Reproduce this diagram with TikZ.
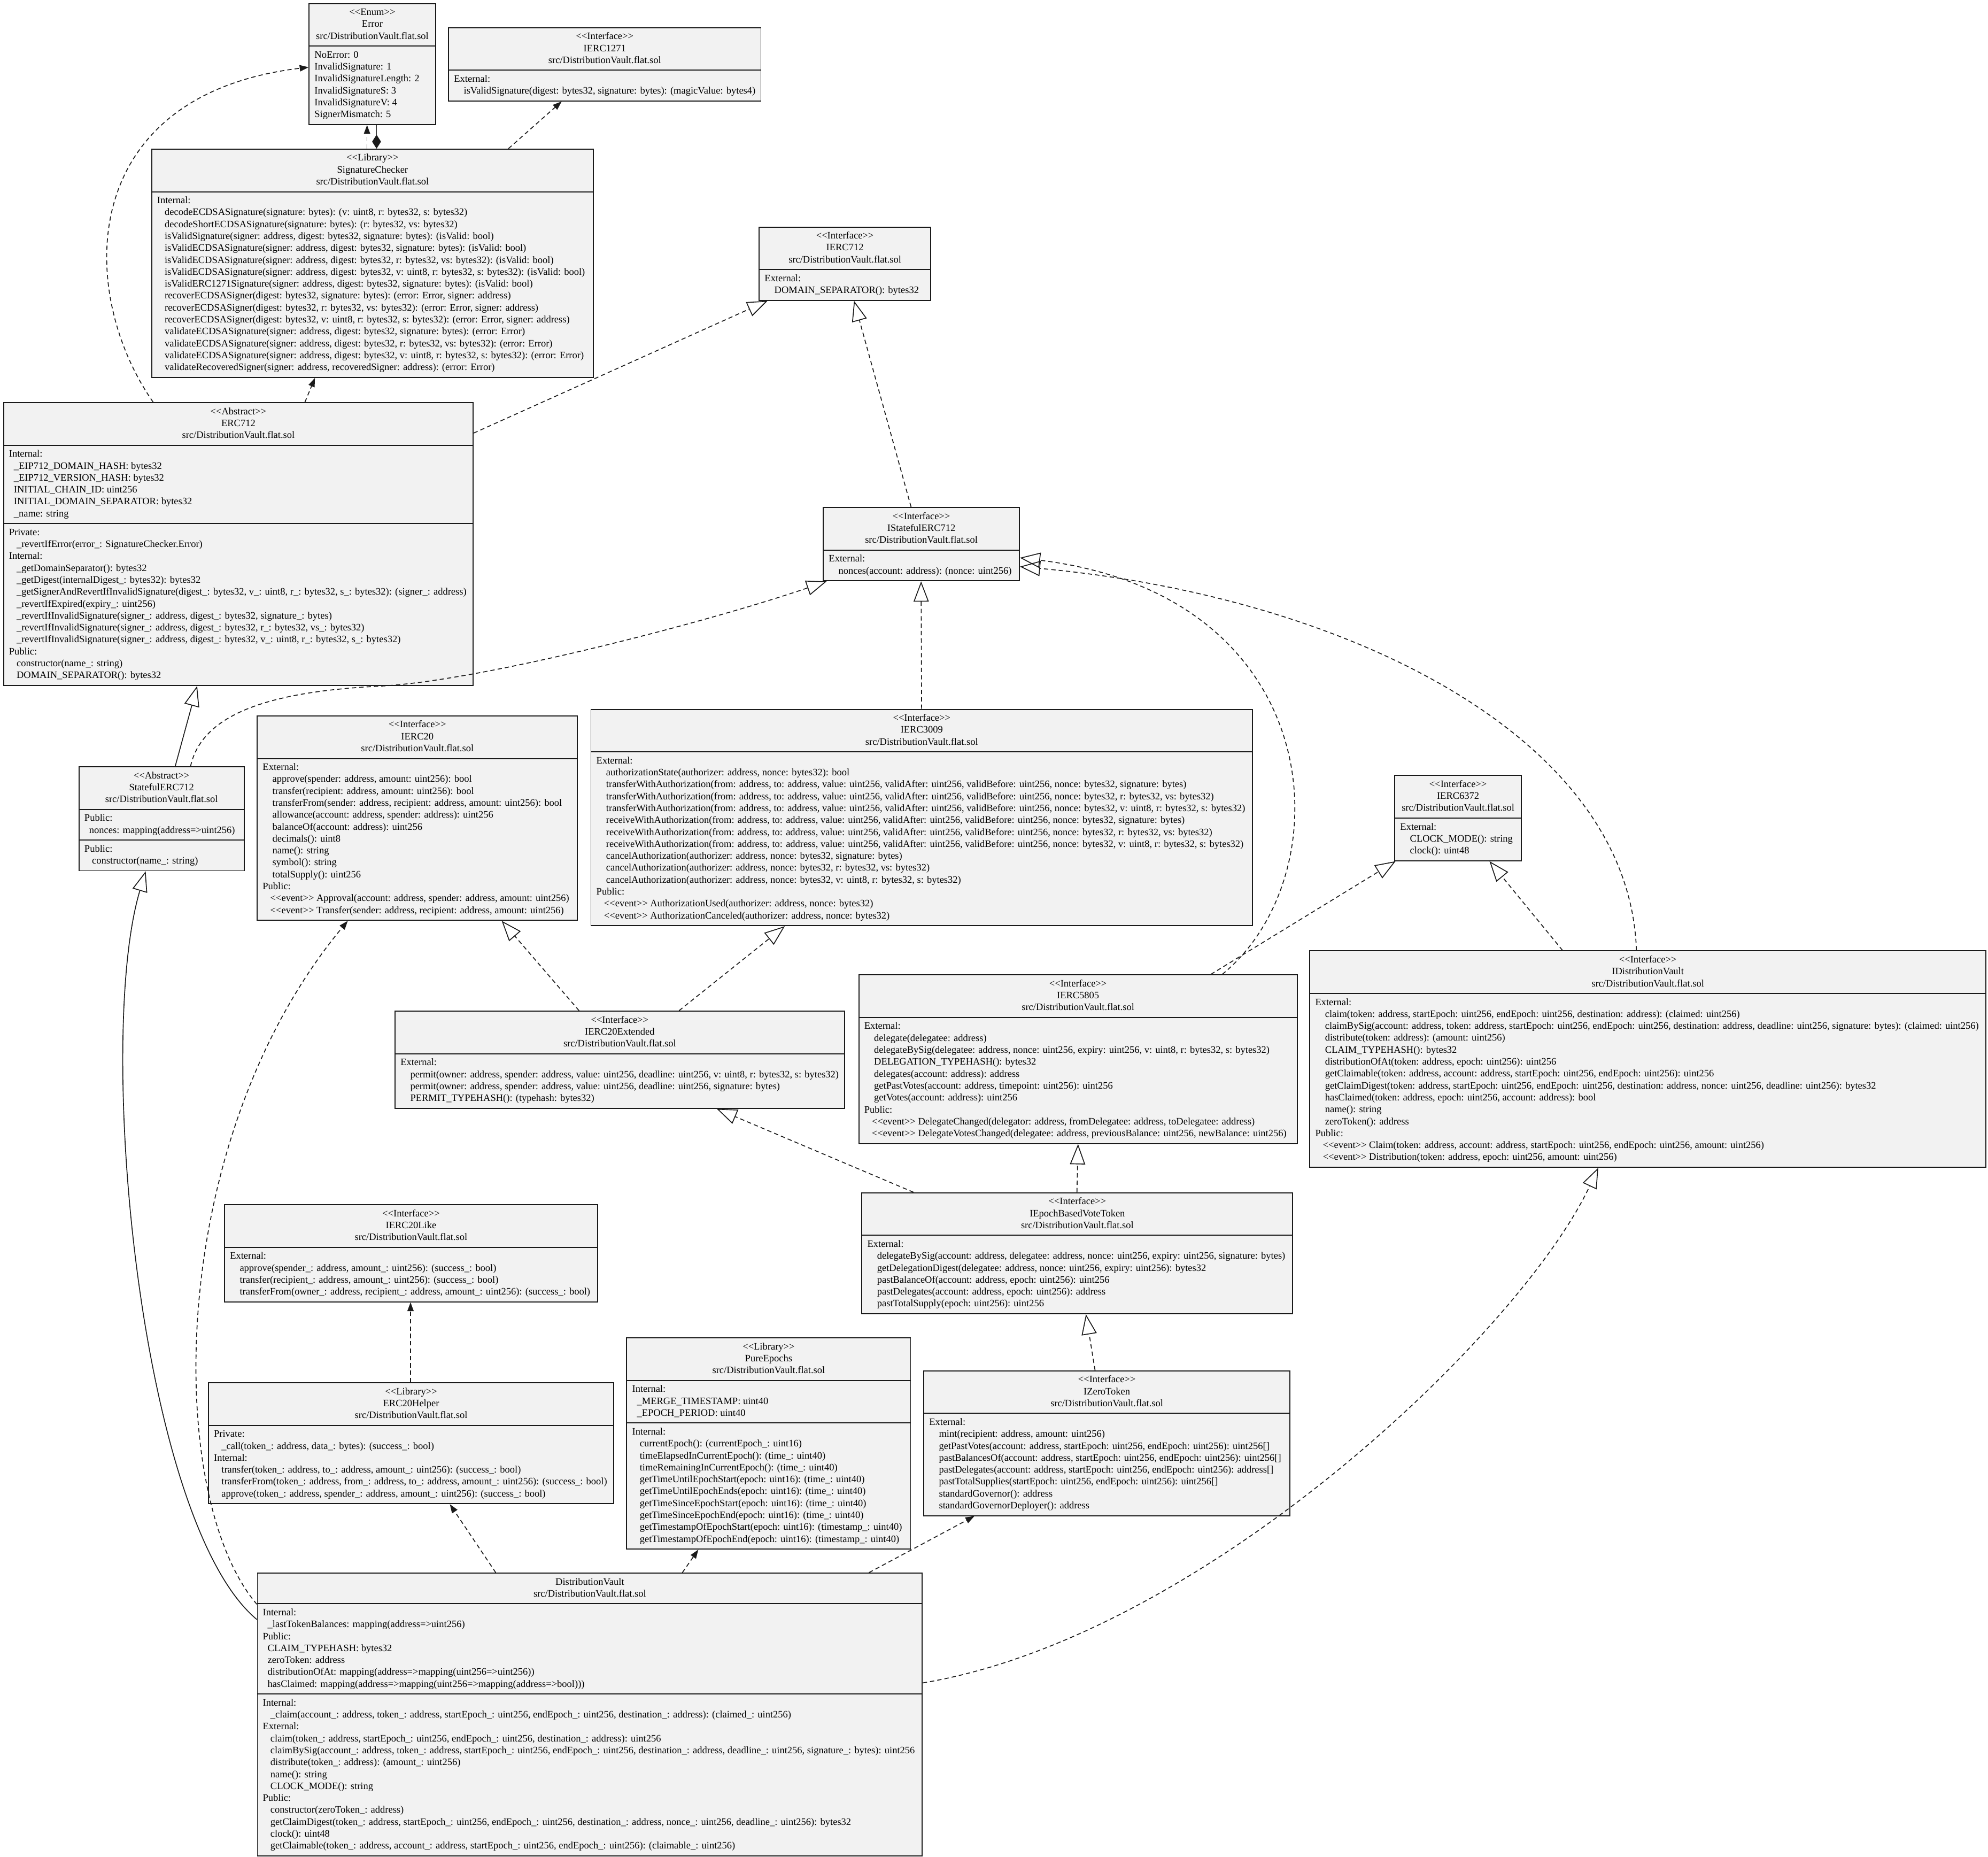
\documentclass[tikz,border=0pt]{standalone}
\usepackage{fontspec}
\setmainfont{Liberation Serif}
\usetikzlibrary{shapes.multipart,arrows.meta}
\definecolor{boxfill}{HTML}{F2F2F2}
\definecolor{boxline}{HTML}{1A1A1A}
\newcommand\umlfont{\fontsize{7.8pt}{9.4pt}\selectfont}
% stereotype brackets, kept apart so that no guillemet ligature forms
\newcommand\st[1]{<\kern0pt<#1>\kern0pt>}
\newcommand\hd[2]{\begin{tabular}{@{}c@{}}\st{#1}\\#2\\src/DistributionVault.flat.sol\end{tabular}}
\newcommand\bl[1]{\begin{tabular}{@{}l@{}}#1\end{tabular}}
% indentation of attributes, methods, interface methods and events
\newcommand\ia{\hspace*{3.8pt}}
\newcommand\im{\hspace*{6pt}}
\newcommand\ix{\hspace*{7.7pt}}
\newcommand\iev{\hspace*{6pt}}
\tikzset{
  umlbox/.style={rectangle split, rectangle split parts=#1,
    rectangle split part align={center,left,left},
    draw=boxline, fill=boxfill, line width=0.8pt,
    inner xsep=4.3pt, inner ysep=2.3pt, anchor=north west, font=\umlfont},
  link/.style={line width=0.7pt, draw=boxline},
  dashedlink/.style={link, dash pattern=on 3.4pt off 2.4pt},
  uses/.style={dashedlink, -{Triangle[length=7pt,width=5pt]}},
  realizes/.style={dashedlink, -{Triangle[open,length=16pt,width=12pt]}},
  inherits/.style={link, -{Triangle[open,length=16pt,width=12pt]}},
  composed/.style={link, {Diamond[length=11pt,width=7pt]}-},
}
\begin{document}
\catcode`\_=12
\begin{tikzpicture}[x=1pt,y=-1pt]
\useasboundingbox (0,0) rectangle (1568,1464);
\fill[white] (0,0) rectangle (1568,1464);

% ---------- classes ----------
\node[umlbox=2, minimum width=99.7pt] (err) at (243.4,2.4) {\hd{Enum}{Error}
\nodepart{two}\bl{NoError: 0\\InvalidSignature: 1\\InvalidSignatureLength: 2\\InvalidSignatureS: 3\\InvalidSignatureV: 4\\SignerMismatch: 5}};

\node[umlbox=2, minimum width=243.5pt] (e1271) at (353.4,21.4) {\hd{Interface}{IERC1271}
\nodepart{two}\bl{External:\\\ix isValidSignature(digest: bytes32, signature: bytes): (magicValue: bytes4)}};

\node[umlbox=2, minimum width=348.4pt] (sigc) at (119.2,117.2) {\hd{Library}{SignatureChecker}
\nodepart{two}\bl{Internal:\\
\im decodeECDSASignature(signature: bytes): (v: uint8, r: bytes32, s: bytes32)\\
\im decodeShortECDSASignature(signature: bytes): (r: bytes32, vs: bytes32)\\
\im isValidSignature(signer: address, digest: bytes32, signature: bytes): (isValid: bool)\\
\im isValidECDSASignature(signer: address, digest: bytes32, signature: bytes): (isValid: bool)\\
\im isValidECDSASignature(signer: address, digest: bytes32, r: bytes32, vs: bytes32): (isValid: bool)\\
\im isValidECDSASignature(signer: address, digest: bytes32, v: uint8, r: bytes32, s: bytes32): (isValid: bool)\\
\im isValidERC1271Signature(signer: address, digest: bytes32, signature: bytes): (isValid: bool)\\
\im recoverECDSASigner(digest: bytes32, signature: bytes): (error: Error, signer: address)\\
\im recoverECDSASigner(digest: bytes32, r: bytes32, vs: bytes32): (error: Error, signer: address)\\
\im recoverECDSASigner(digest: bytes32, v: uint8, r: bytes32, s: bytes32): (error: Error, signer: address)\\
\im validateECDSASignature(signer: address, digest: bytes32, signature: bytes): (error: Error)\\
\im validateECDSASignature(signer: address, digest: bytes32, r: bytes32, vs: bytes32): (error: Error)\\
\im validateECDSASignature(signer: address, digest: bytes32, v: uint8, r: bytes32, s: bytes32): (error: Error)\\
\im validateRecoveredSigner(signer: address, recoveredSigner: address): (error: Error)}};

\node[umlbox=2, minimum width=135.2pt] (ie712) at (598.4,178.6) {\hd{Interface}{IERC712}
\nodepart{two}\bl{External:\\\ix DOMAIN_SEPARATOR(): bytes32}};

\node[umlbox=3, minimum width=370.4pt] (erc712) at (2.4,317.1) {\hd{Abstract}{ERC712}
\nodepart{two}\bl{Internal:\\
\ia _EIP712_DOMAIN_HASH: bytes32\\
\ia _EIP712_VERSION_HASH: bytes32\\
\ia INITIAL_CHAIN_ID: uint256\\
\ia INITIAL_DOMAIN_SEPARATOR: bytes32\\
\ia _name: string}
\nodepart{three}\bl{Private:\\
\im _revertIfError(error_: SignatureChecker.Error)\\
Internal:\\
\im _getDomainSeparator(): bytes32\\
\im _getDigest(internalDigest_: bytes32): bytes32\\
\im _getSignerAndRevertIfInvalidSignature(digest_: bytes32, v_: uint8, r_: bytes32, s_: bytes32): (signer_: address)\\
\im _revertIfExpired(expiry_: uint256)\\
\im _revertIfInvalidSignature(signer_: address, digest_: bytes32, signature_: bytes)\\
\im _revertIfInvalidSignature(signer_: address, digest_: bytes32, r_: bytes32, vs_: bytes32)\\
\im _revertIfInvalidSignature(signer_: address, digest_: bytes32, v_: uint8, r_: bytes32, s_: bytes32)\\
Public:\\
\im constructor(name_: string)\\
\im DOMAIN_SEPARATOR(): bytes32}};

\node[umlbox=2, minimum width=154.6pt] (ise712) at (649,399.8) {\hd{Interface}{IStatefulERC712}
\nodepart{two}\bl{External:\\\ix nonces(account: address): (nonce: uint256)}};

\node[umlbox=3, minimum width=130.2pt] (se712) at (61.9,604.2) {\hd{Abstract}{StatefulERC712}
\nodepart{two}\bl{Public:\\\ia nonces: mapping(address=>uint256)}
\nodepart{three}\bl{Public:\\\im constructor(name_: string)}};

\node[umlbox=2, minimum width=252.6pt] (ie20) at (202.5,564.1) {\hd{Interface}{IERC20}
\nodepart{two}\bl{External:\\
\ix approve(spender: address, amount: uint256): bool\\
\ix transfer(recipient: address, amount: uint256): bool\\
\ix transferFrom(sender: address, recipient: address, amount: uint256): bool\\
\ix allowance(account: address, spender: address): uint256\\
\ix balanceOf(account: address): uint256\\
\ix decimals(): uint8\\
\ix name(): string\\
\ix symbol(): string\\
\ix totalSupply(): uint256\\
Public:\\
\iev \st{event} Approval(account: address, spender: address, amount: uint256)\\
\iev \st{event} Transfer(sender: address, recipient: address, amount: uint256)}};

\node[umlbox=2, minimum width=521.8pt] (ie3009) at (465.7,558.9) {\hd{Interface}{IERC3009}
\nodepart{two}\bl{External:\\
\ix authorizationState(authorizer: address, nonce: bytes32): bool\\
\ix transferWithAuthorization(from: address, to: address, value: uint256, validAfter: uint256, validBefore: uint256, nonce: bytes32, signature: bytes)\\
\ix transferWithAuthorization(from: address, to: address, value: uint256, validAfter: uint256, validBefore: uint256, nonce: bytes32, r: bytes32, vs: bytes32)\\
\ix transferWithAuthorization(from: address, to: address, value: uint256, validAfter: uint256, validBefore: uint256, nonce: bytes32, v: uint8, r: bytes32, s: bytes32)\\
\ix receiveWithAuthorization(from: address, to: address, value: uint256, validAfter: uint256, validBefore: uint256, nonce: bytes32, signature: bytes)\\
\ix receiveWithAuthorization(from: address, to: address, value: uint256, validAfter: uint256, validBefore: uint256, nonce: bytes32, r: bytes32, vs: bytes32)\\
\ix receiveWithAuthorization(from: address, to: address, value: uint256, validAfter: uint256, validBefore: uint256, nonce: bytes32, v: uint8, r: bytes32, s: bytes32)\\
\ix cancelAuthorization(authorizer: address, nonce: bytes32, signature: bytes)\\
\ix cancelAuthorization(authorizer: address, nonce: bytes32, r: bytes32, vs: bytes32)\\
\ix cancelAuthorization(authorizer: address, nonce: bytes32, v: uint8, r: bytes32, s: bytes32)\\
Public:\\
\iev \st{event} AuthorizationUsed(authorizer: address, nonce: bytes32)\\
\iev \st{event} AuthorizationCanceled(authorizer: address, nonce: bytes32)}};

\node[umlbox=2, minimum width=99.8pt] (ie6372) at (1099.7,611.1) {\hd{Interface}{IERC6372}
\nodepart{two}\bl{External:\\\ix CLOCK_MODE(): string\\\ix clock(): uint48}};

\node[umlbox=2, minimum width=345.7pt] (ie5805) at (677,768.3) {\hd{Interface}{IERC5805}
\nodepart{two}\bl{External:\\
\ix delegate(delegatee: address)\\
\ix delegateBySig(delegatee: address, nonce: uint256, expiry: uint256, v: uint8, r: bytes32, s: bytes32)\\
\ix DELEGATION_TYPEHASH(): bytes32\\
\ix delegates(account: address): address\\
\ix getPastVotes(account: address, timepoint: uint256): uint256\\
\ix getVotes(account: address): uint256\\
Public:\\
\iev \st{event} DelegateChanged(delegator: address, fromDelegatee: address, toDelegatee: address)\\
\iev \st{event} DelegateVotesChanged(delegatee: address, previousBalance: uint256, newBalance: uint256)}};

\node[umlbox=2, minimum width=533.2pt] (idv) at (1032.7,749.4) {\hd{Interface}{IDistributionVault}
\nodepart{two}\bl{External:\\
\ix claim(token: address, startEpoch: uint256, endEpoch: uint256, destination: address): (claimed: uint256)\\
\ix claimBySig(account: address, token: address, startEpoch: uint256, endEpoch: uint256, destination: address, deadline: uint256, signature: bytes): (claimed: uint256)\\
\ix distribute(token: address): (amount: uint256)\\
\ix CLAIM_TYPEHASH(): bytes32\\
\ix distributionOfAt(token: address, epoch: uint256): uint256\\
\ix getClaimable(token: address, account: address, startEpoch: uint256, endEpoch: uint256): uint256\\
\ix getClaimDigest(token: address, startEpoch: uint256, endEpoch: uint256, destination: address, nonce: uint256, deadline: uint256): bytes32\\
\ix hasClaimed(token: address, epoch: uint256, account: address): bool\\
\ix name(): string\\
\ix zeroToken(): address\\
Public:\\
\iev \st{event} Claim(token: address, account: address, startEpoch: uint256, endEpoch: uint256, amount: uint256)\\
\iev \st{event} Distribution(token: address, epoch: uint256, amount: uint256)}};

\node[umlbox=2, minimum width=354.4pt] (ie20x) at (311.2,796.9) {\hd{Interface}{IERC20Extended}
\nodepart{two}\bl{External:\\
\ix permit(owner: address, spender: address, value: uint256, deadline: uint256, v: uint8, r: bytes32, s: bytes32)\\
\ix permit(owner: address, spender: address, value: uint256, deadline: uint256, signature: bytes)\\
\ix PERMIT_TYPEHASH(): (typehash: bytes32)}};

\node[umlbox=2, minimum width=339.8pt] (iebvt) at (679.4,940.1) {\hd{Interface}{IEpochBasedVoteToken}
\nodepart{two}\bl{External:\\
\ix delegateBySig(account: address, delegatee: address, nonce: uint256, expiry: uint256, signature: bytes)\\
\ix getDelegationDigest(delegatee: address, nonce: uint256, expiry: uint256): bytes32\\
\ix pastBalanceOf(account: address, epoch: uint256): uint256\\
\ix pastDelegates(account: address, epoch: uint256): address\\
\ix pastTotalSupply(epoch: uint256): uint256}};

\node[umlbox=2, minimum width=294.2pt] (ie20l) at (176.7,949.5) {\hd{Interface}{IERC20Like}
\nodepart{two}\bl{External:\\
\ix approve(spender_: address, amount_: uint256): (success_: bool)\\
\ix transfer(recipient_: address, amount_: uint256): (success_: bool)\\
\ix transferFrom(owner_: address, recipient_: address, amount_: uint256): (success_: bool)}};

\node[umlbox=3, minimum width=223.9pt] (pure) at (493.9,1054.5) {\hd{Library}{PureEpochs}
\nodepart{two}\bl{Internal:\\\ia _MERGE_TIMESTAMP: uint40\\\ia _EPOCH_PERIOD: uint40}
\nodepart{three}\bl{Internal:\\
\im currentEpoch(): (currentEpoch_: uint16)\\
\im timeElapsedInCurrentEpoch(): (time_: uint40)\\
\im timeRemainingInCurrentEpoch(): (time_: uint40)\\
\im getTimeUntilEpochStart(epoch: uint16): (time_: uint40)\\
\im getTimeUntilEpochEnds(epoch: uint16): (time_: uint40)\\
\im getTimeSinceEpochStart(epoch: uint16): (time_: uint40)\\
\im getTimeSinceEpochEnd(epoch: uint16): (time_: uint40)\\
\im getTimestampOfEpochStart(epoch: uint16): (timestamp_: uint40)\\
\im getTimestampOfEpochEnd(epoch: uint16): (timestamp_: uint40)}};

\node[umlbox=2, minimum width=288.8pt] (izt) at (728.2,1080.5) {\hd{Interface}{IZeroToken}
\nodepart{two}\bl{External:\\
\ix mint(recipient: address, amount: uint256)\\
\ix getPastVotes(account: address, startEpoch: uint256, endEpoch: uint256): uint256[]\\
\ix pastBalancesOf(account: address, startEpoch: uint256, endEpoch: uint256): uint256[]\\
\ix pastDelegates(account: address, startEpoch: uint256, endEpoch: uint256): address[]\\
\ix pastTotalSupplies(startEpoch: uint256, endEpoch: uint256): uint256[]\\
\ix standardGovernor(): address\\
\ix standardGovernorDeployer(): address}};

\node[umlbox=2, minimum width=319.7pt] (helper) at (164,1089.9) {\hd{Library}{ERC20Helper}
\nodepart{two}\bl{Private:\\
\im _call(token_: address, data_: bytes): (success_: bool)\\
Internal:\\
\im transfer(token_: address, to_: address, amount_: uint256): (success_: bool)\\
\im transferFrom(token_: address, from_: address, to_: address, amount_: uint256): (success_: bool)\\
\im approve(token_: address, spender_: address, amount_: uint256): (success_: bool)}};

\node[umlbox=3, minimum width=524.4pt] (dv) at (202.6,1240) {\begin{tabular}{@{}c@{}}DistributionVault\\src/DistributionVault.flat.sol\end{tabular}
\nodepart{two}\bl{Internal:\\
\ia _lastTokenBalances: mapping(address=>uint256)\\
Public:\\
\ia CLAIM_TYPEHASH: bytes32\\
\ia zeroToken: address\\
\ia distributionOfAt: mapping(address=>mapping(uint256=>uint256))\\
\ia hasClaimed: mapping(address=>mapping(uint256=>mapping(address=>bool)))}
\nodepart{three}\bl{Internal:\\
\im _claim(account_: address, token_: address, startEpoch_: uint256, endEpoch_: uint256, destination_: address): (claimed_: uint256)\\
External:\\
\im claim(token_: address, startEpoch_: uint256, endEpoch_: uint256, destination_: address): uint256\\
\im claimBySig(account_: address, token_: address, startEpoch_: uint256, endEpoch_: uint256, destination_: address, deadline_: uint256, signature_: bytes): uint256\\
\im distribute(token_: address): (amount_: uint256)\\
\im name(): string\\
\im CLOCK_MODE(): string\\
Public:\\
\im constructor(zeroToken_: address)\\
\im getClaimDigest(token_: address, startEpoch_: uint256, endEpoch_: uint256, destination_: address, nonce_: uint256, deadline_: uint256): bytes32\\
\im clock(): uint48\\
\im getClaimable(token_: address, account_: address, startEpoch_: uint256, endEpoch_: uint256): (claimable_: uint256)}};

% ---------- relations ----------
\draw[uses] ([xshift=170.3pt]sigc.north west) -- ([xshift=46.1pt]err.south west);
\draw[composed] ([xshift=177.8pt]sigc.north west) -- ([xshift=53.6pt]err.south west);
\draw[uses] ([xshift=281.8pt]sigc.north west) -- ([xshift=89.6pt]e1271.south west);
\draw[uses] ([xshift=118.4pt]erc712.north west) .. controls (60,230) and (60,75) .. ([yshift=-50.6pt]err.north west);
\draw[uses] ([xshift=238.1pt]erc712.north west) -- ([xshift=129.2pt]sigc.south west);
\draw[realizes] ([yshift=-24.4pt]erc712.north east) -- ([xshift=7pt]ie712.south west);
\draw[realizes] ([xshift=69.6pt]ise712.north west) -- ([xshift=75.2pt]ie712.south west);
\draw[inherits] ([xshift=76.3pt]se712.north west) -- ([xshift=153.1pt]erc712.south west);
\draw[realizes] ([xshift=88.4pt]se712.north west) .. controls (160,560) and (220,545) .. (300,541)
   .. controls (380,537) and (560,490) .. ([xshift=3pt]ise712.south west);
\draw[realizes] ([xshift=261.2pt]ie3009.north west) -- ([xshift=77.5pt]ise712.south west);
\draw[realizes] ([xshift=287pt]ie5805.north west) .. controls (1060,690) and (1050,470) .. ([yshift=-40pt]ise712.north east);
\draw[realizes] ([xshift=145.5pt]ie20x.north west) -- ([xshift=193.2pt]ie20.south west);
\draw[realizes] ([xshift=224.4pt]ie20x.north west) -- ([xshift=153.3pt]ie3009.south west);
\draw[realizes] ([xshift=41.1pt]iebvt.north west) -- ([xshift=254.1pt]ie20x.south west);
\draw[realizes] ([xshift=170pt]iebvt.north west) -- ([xshift=173.3pt]ie5805.south west);
\draw[realizes] ([xshift=135.5pt]izt.north west) -- ([xshift=177.1pt]iebvt.south west);
\draw[realizes] ([xshift=278pt]ie5805.north west) -- ([xshift=1pt]ie6372.south west);
\draw[realizes] ([xshift=199.7pt]idv.north west) -- ([xshift=75.1pt]ie6372.south west);
\draw[realizes] ([xshift=258pt]idv.north west) .. controls (1285,580) and (1060,470) .. ([yshift=-47pt]ise712.north east);
\draw[inherits] ([yshift=-37pt]dv.north west) .. controls (110,1200) and (75,820) .. ([xshift=53pt]se712.south west);
\draw[uses] ([yshift=-25pt]dv.north west) .. controls (130,1180) and (130,900) .. ([xshift=71.8pt]ie20.south west);
\draw[uses] ([xshift=188.4pt]dv.north west) -- ([xshift=190.8pt]helper.south west);
\draw[uses] ([xshift=335.6pt]dv.north west) -- ([xshift=56.9pt]pure.south west);
\draw[uses] ([xshift=482.8pt]dv.north west) -- ([xshift=40.3pt]izt.south west);
\draw[realizes] ([yshift=-87pt]dv.north east) .. controls (950,1290) and (1200,1050) .. ([xshift=227.9pt]idv.south west);
\draw[uses] ([xshift=159.8pt]helper.north west) -- ([xshift=147.1pt]ie20l.south west);
\end{tikzpicture}
\end{document}
